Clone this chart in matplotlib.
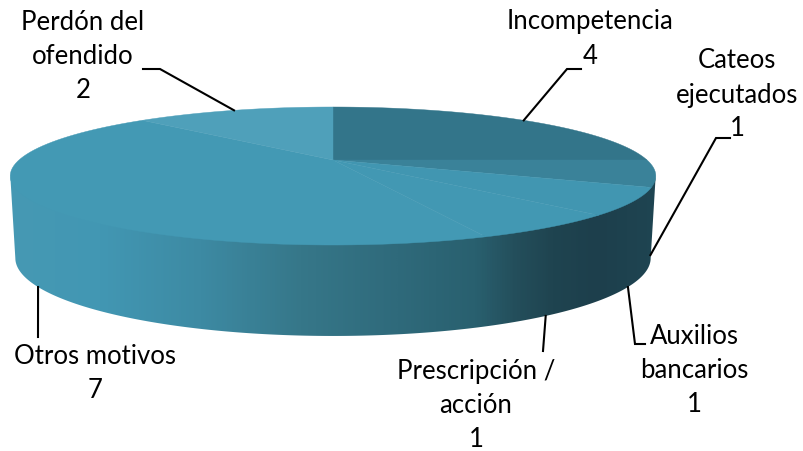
import numpy as np
import matplotlib
matplotlib.use('Agg')
import matplotlib.pyplot as plt
from matplotlib.colors import LinearSegmentedColormap
from matplotlib.patches import Polygon

# datos del grafico
categorias = ['Incompetencia', 'Cateos\nejecutados', 'Auxilios\nbancarios',
              'Prescripción /\nacción', 'Otros motivos', 'Perdón del\nofendido']
valores = [4, 1, 1, 1, 7, 2]
colores = ['#33758a', '#3a8299', '#4196b1', '#4298b3', '#4399b4', '#4fa0ba']

# geometria del pastel en pixeles (con perspectiva)
cx, cy = 333, 161
A, B, k = 314, 65.3, 0.232
A2, B2, cy2 = 309, 73.7, 241

# posicion de cada etiqueta y codo de la linea guia
pos_texto = [(590, 39), (737, 95), (694, 371), (476, 406), (95, 374), (83, 56)]
codos = [[(567, 70), (581, 70)], [(716, 139), (730, 139)], [(635, 345), (645, 345)],
         [(543, 352)], [(38, 338)], [(160, 70), (143, 70)]]
en_borde_inferior = [False, True, True, True, True, False]

plt.rcParams['font.family'] = ['Lato', 'DejaVu Sans']


def rim(theta, inferior=False):
    # theta en grados, horario desde el norte
    t = np.radians(theta)
    u, v = np.sin(t), np.cos(t)
    w = 1 + k * v
    if inferior:
        return cx + A2 * u / w, cy2 - B2 * v / w
    return cx + A * u / w, cy - B * v / w


fig = plt.figure(figsize=(8.04, 4.52), dpi=100)
ax = fig.add_axes([0, 0, 1, 1])
ax.set_xlim(0, 804)
ax.set_ylim(452, 0)
ax.axis('off')

# pared lateral con degradado horizontal
der = 103.4
izq = 256.6
frente = np.linspace(der, izq, 400)
sup = np.column_stack(rim(frente))
sup[:, 1] -= 2  # que quede debajo de la cara superior
inf = np.column_stack(rim(frente, True))
pared = Polygon(np.vstack([sup, inf[::-1]]), closed=True, fc='none', ec='none')
ax.add_patch(pared)
cmap = LinearSegmentedColormap.from_list('pared', [
    (0.00, '#4699b4'), (0.14, '#4297b3'), (0.295, '#3d8aa3'), (0.45, '#367789'),
    (0.60, '#2f6a7b'), (0.72, '#29606f'), (0.78, '#244f5c'), (0.84, '#1f4450'),
    (0.91, '#1d3f4c'), (1.00, '#1f4552')])
grad = ax.imshow(np.linspace(0, 1, 640).reshape(1, -1), cmap=cmap, aspect='auto',
                 extent=(9, 657, 345, 170), zorder=1)
grad.set_clip_path(pared)
ax.set_xlim(0, 804)
ax.set_ylim(452, 0)

# cara superior, una cuña por categoria
acum = np.cumsum([0] + valores) / sum(valores) * 360
for i in range(len(valores)):
    th = np.linspace(acum[i], acum[i + 1], 80)
    px, py = rim(th)
    pts = np.vstack([[cx, cy], np.column_stack([px, py])])
    ax.add_patch(Polygon(pts, closed=True, fc=colores[i], ec=colores[i], lw=0.3, zorder=2))

# etiquetas y lineas guia
for i in range(len(valores)):
    medio = (acum[i] + acum[i + 1]) / 2
    x0, y0 = rim(medio, en_borde_inferior[i])
    camino = [(x0, y0)] + codos[i]
    ax.plot([p[0] for p in camino], [p[1] for p in camino], color='black', lw=1.5,
            solid_joinstyle='miter', zorder=3)
    ax.text(pos_texto[i][0], pos_texto[i][1], categorias[i] + '\n' + str(valores[i]),
            ha='center', va='center', ma='center', fontsize=18.5, linespacing=1.45,
            color='black', zorder=4)

fig.savefig('out.png', dpi=100)
